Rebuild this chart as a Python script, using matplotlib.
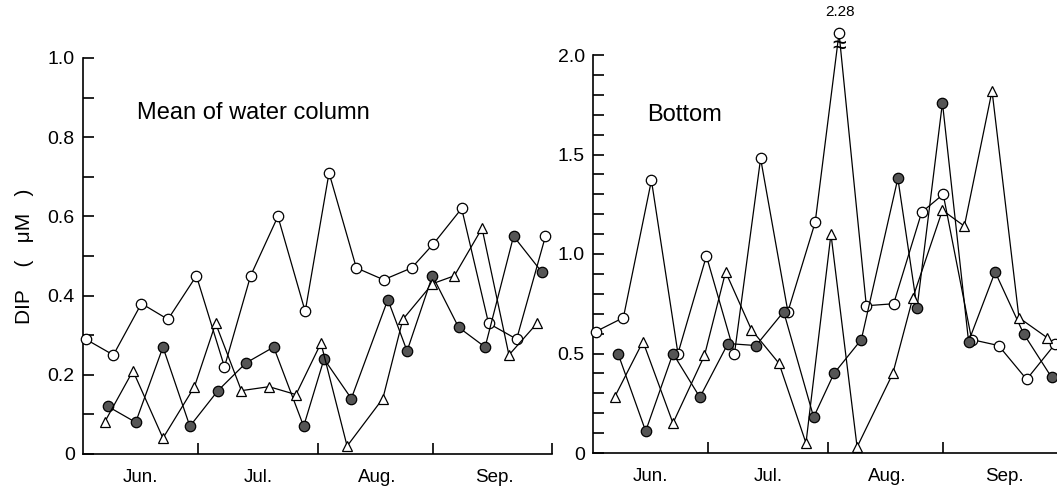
import matplotlib
matplotlib.use("Agg")
import matplotlib.pyplot as plt
from matplotlib.ticker import MultipleLocator

plt.rcParams['font.family'] = ['Liberation Sans', 'DejaVu Sans']

# sampling days, counted from June 1
days_open = [0.7, 7.9, 15.2, 22.1, 29.5, 36.8, 43.6, 50.7, 57.8, 64.0,
             71.1, 78.2, 85.5, 91.1, 98.5, 105.5, 112.8, 120.3]
days_filled = [6.5, 13.7, 20.8, 27.8, 35.1, 42.4, 49.6, 57.4, 62.7, 69.8,
               79.3, 84.3, 90.9, 97.7, 104.6, 112.0, 119.3]
days_tri = [5.6, 13.0, 20.8, 29.0, 34.5, 41.2, 48.4, 55.4, 61.9, 68.7,
            78.0, 83.2, 90.9, 96.6, 103.8, 110.8, 118.1]

# mean of water column (uM)
mean_open = [0.29, 0.25, 0.38, 0.34, 0.45, 0.22, 0.45, 0.60, 0.36, 0.71,
             0.47, 0.44, 0.47, 0.53, 0.62, 0.33, 0.29, 0.55]
mean_filled = [0.12, 0.08, 0.27, 0.07, 0.16, 0.23, 0.27, 0.07, 0.24, 0.14,
               0.39, 0.26, 0.45, 0.32, 0.27, 0.55, 0.46]
mean_tri = [0.08, 0.21, 0.04, 0.17, 0.33, 0.16, 0.17, 0.15, 0.28, 0.02,
            0.14, 0.34, 0.43, 0.45, 0.57, 0.25, 0.33]

# bottom (uM)
bot_open = [0.61, 0.68, 1.37, 0.50, 0.99, 0.50, 1.48, 0.71, 1.16, 2.28,
            0.74, 0.75, 1.21, 1.30, 0.57, 0.54, 0.37, 0.55]
bot_filled = [0.50, 0.11, 0.50, 0.28, 0.55, 0.54, 0.71, 0.18, 0.40, 0.57,
              1.38, 0.73, 1.76, 0.56, 0.91, 0.60, 0.38]
bot_tri = [0.28, 0.56, 0.15, 0.49, 0.91, 0.62, 0.45, 0.05, 1.10, 0.03,
           0.40, 0.78, 1.22, 1.14, 1.82, 0.68, 0.58]
bot_break = 2.11  # off-scale values are drawn here

month_edges = [30, 61, 91, 122]
month_mid = [15, 45.5, 76.5, 107]
month_names = ['Jun.', 'Jul.', 'Aug.', 'Sep.']


def style_axis(ax, ymax, ystep, ylabels):
    ax.set_xlim(0, 122)
    ax.set_ylim(0, ymax)
    ax.spines['top'].set_visible(False)
    ax.spines['right'].set_visible(False)
    for s in ('left', 'bottom'):
        ax.spines[s].set_linewidth(1.2)
    ax.set_xticks(month_edges)
    ax.set_xticklabels([])
    ax.set_xticks(month_mid, minor=True)
    ax.set_xticklabels(month_names, minor=True, fontsize=13.5)
    ax.tick_params(axis='x', which='major', direction='in', length=8, width=1.2)
    ax.tick_params(axis='x', which='minor', length=0, pad=11)
    yt = [i * ystep for i in range(len(ylabels))]
    ax.set_yticks(yt)
    ax.set_yticklabels(ylabels, fontsize=14)
    ax.yaxis.set_minor_locator(MultipleLocator(0.1))
    ax.tick_params(axis='y', which='both', direction='in', length=8, width=1.2, pad=6)


def draw(ax, xs, ys, marker, face):
    ax.plot(xs, ys, color='black', lw=0.9, marker=marker, ms=7.5,
            mfc=face, mec='black', mew=0.9, clip_on=False, zorder=3)


fig = plt.figure(figsize=(10.57, 4.88), dpi=100)

ax1 = fig.add_axes([83 / 1057, 34 / 488, 469 / 1057, 396 / 488])
style_axis(ax1, 1.0, 0.2, ['0', '0.2', '0.4', '0.6', '0.8', '1.0'])
draw(ax1, days_open, mean_open, 'o', 'white')
draw(ax1, days_filled, mean_filled, 'o', '#555555')
draw(ax1, days_tri, mean_tri, '^', 'white')
ax1.text(0.115, 0.86, 'Mean of water column', transform=ax1.transAxes,
         fontsize=17, va='center', ha='left')
ax1.set_ylabel('DIP    (   μM   )', fontsize=15, labelpad=10)

ax2 = fig.add_axes([593 / 1057, 35 / 488, 469 / 1057, 398 / 488])
style_axis(ax2, 2.0, 0.5, ['0', '0.5', '1.0', '1.5', '2.0'])
bot_open_drawn = [min(v, bot_break) for v in bot_open]
draw(ax2, days_open, bot_open_drawn, 'o', 'white')
draw(ax2, days_filled, bot_filled, 'o', '#555555')
draw(ax2, days_tri, bot_tri, '^', 'white')
ax2.text(0.115, 0.85, 'Bottom', transform=ax2.transAxes,
         fontsize=17, va='center', ha='left')
for x, v in zip(days_open, bot_open):
    if v > bot_break:
        ax2.annotate('%.2f' % v, xy=(x, bot_break), xytext=(1, 10),
                     textcoords='offset points', ha='center', va='bottom',
                     fontsize=11, annotation_clip=False)
        ax2.annotate('≈', xy=(x, bot_break), xytext=(0, -9),
                     textcoords='offset points', ha='center', va='center',
                     fontsize=18, annotation_clip=False)

fig.savefig('out.png', dpi=100)
